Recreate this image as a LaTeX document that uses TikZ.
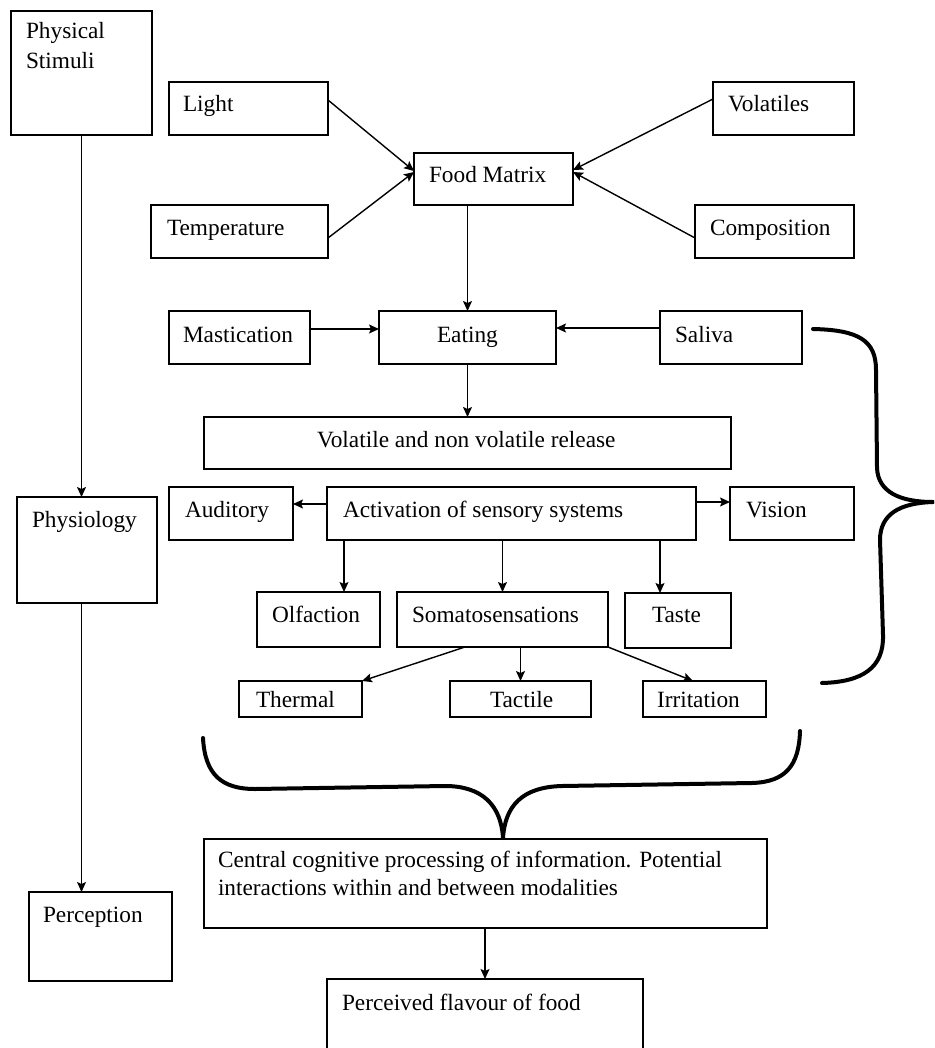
\documentclass[tikz,border=0pt]{standalone}
\usepackage{fontspec}
\setmainfont{Liberation Serif}
\usetikzlibrary{arrows.meta,calc}
\tikzset{
  box/.style={draw, line width=1.4pt, rectangle, anchor=north west, inner sep=0pt, outer sep=0pt},
  txt/.style={anchor=base west, inner sep=0pt, outer sep=0pt, font=\fontsize{23.3}{28}\selectfont},
  arr/.style={line width=1.4pt, -{Stealth[length=10pt,width=9pt,inset=2pt]}},
  brace/.style={line width=4pt, line cap=round, line join=round},
}
\newcommand{\mybox}[5]{\node[box, minimum width={#4-#2}, minimum height={#5-#3}] (#1) at (#2,#3) {};}
\newcommand{\mytext}[4]{\node[txt] (#1) at (#2,#3) {#4};}
\begin{document}
\begin{tikzpicture}[x=1pt,y=-1pt]
\useasboundingbox (0,0) rectangle (934,1048);
\clip (0,0) rectangle (934,1048);

% boxes
\mybox{phys}{11}{11}{152}{135}
\mybox{light}{169}{82}{328}{135}
\mybox{temp}{151}{205}{328}{258}
\mybox{food}{414}{153}{573}{205}
\mybox{vol}{713}{82}{854}{135}
\mybox{comp}{695}{205}{854}{258}
\mybox{mast}{169}{311}{310}{364}
\mybox{eat}{379}{311}{556}{364}
\mybox{sal}{660}{311}{802}{364}
\mybox{rel}{204}{417}{731}{469}
\mybox{aud}{169}{487}{293}{540}
\mybox{act}{327}{487}{696}{540}
\mybox{vis}{730}{487}{854}{540}
\mybox{physio}{17}{497}{157}{603}
\mybox{olf}{257}{592}{380}{647}
\mybox{som}{397}{592}{608}{647}
\mybox{taste}{625}{593}{731}{648}
\mybox{therm}{239}{681}{362}{717}
\mybox{tact}{450}{681}{591}{717}
\mybox{irr}{643}{681}{766}{717}
\mybox{cent}{204}{839}{767}{928}
\mybox{perc}{29}{892}{172}{981}
\mybox{flav}{327}{979}{643}{1075}

% texts
\mytext{phys-t1}{26}{39}{Physical}
\mytext{phys-t2}{26}{69}{Stimuli}
\mytext{light-t}{183}{112}{Light}
\mytext{temp-t}{167}{236}{Temperature}
\mytext{food-t}{429}{183}{Food Matrix}
\mytext{vol-t}{728}{112}{Volatiles}
\mytext{comp-t}{710}{236}{Composition}
\mytext{mast-t}{183}{342}{Mastication}
\mytext{eat-t}{437}{342}{Eating}
\mytext{sal-t}{675}{342}{Saliva}
\mytext{rel-t}{317}{447}{Volatile and non volatile release}
\mytext{aud-t}{185}{517}{Auditory}
\mytext{act-t}{343}{517}{Activation of sensory systems}
\mytext{vis-t}{746}{517}{Vision}
\mytext{physio-t}{32}{527}{Physiology}
\mytext{olf-t}{272}{622}{Olfaction}
\mytext{som-t}{412}{622}{Somatosensations}
\mytext{taste-t}{652}{622}{Taste}
\mytext{therm-t}{256}{707}{Thermal}
\mytext{tact-t}{490}{707}{Tactile}
\mytext{irr-t}{657}{707}{Irritation}
\mytext{cent-t1}{218}{867}{Central cognitive processing of information. Potential}
\mytext{cent-t2}{218}{895}{interactions within and between modalities}
\mytext{perc-t}{43}{922}{Perception}
\mytext{flav-t}{342}{1010}{Perceived flavour of food}

% connectors
\draw[arr] (phys.south) -- (phys.south |- physio.north);
\draw[arr] (phys.south |- physio.south) -- (phys.south |- perc.north);
\draw[arr] ([yshift=8.5pt]light.east) -- ([yshift=8pt]food.west);
\draw[arr] ([yshift=-6.5pt]temp.east) -- ([yshift=7pt]food.west);
\draw[arr] ([yshift=9.5pt]vol.west) -- ([yshift=9pt]food.east);
\draw[arr] ([yshift=-6.5pt]comp.west) -- ([yshift=7pt]food.east);
\draw[arr] (eat.north |- food.south) -- (eat.north);
\draw[arr] ([yshift=8.5pt]mast.east) -- ([yshift=8.5pt]eat.west);
\draw[arr] ([yshift=9.5pt]sal.west) -- ([yshift=9.5pt]eat.east);
\draw[arr] (eat.south) -- (eat.south |- rel.north);
\draw[arr] ([yshift=9.5pt]act.west) -- ([yshift=9.5pt]aud.east);
\draw[arr] ([yshift=11.5pt]act.east) -- ([yshift=11.5pt]vis.west);
\coordinate (a1) at ($(act.south west)+(17,0)$);
\draw[arr] (a1) -- (a1 |- olf.north);
\draw[arr] (som.north |- act.south) -- (som.north);
\coordinate (a3) at ($(act.south west)+(333,0)$);
\draw[arr] (a3) -- (a3 |- taste.north);
\coordinate (s1) at ($(som.south west)+(68,0)$);
\draw[arr] (s1) -- (therm.north east);
\draw[arr] (tact.north |- som.south) -- (tact.north);
\coordinate (i1) at ($(irr.north west)+(50,0)$);
\draw[arr] (som.south east) -- (i1);
\draw[arr] (flav.north |- cent.south) -- (flav.north);

% right brace
\draw[brace] (813,329) .. controls (858,330) and (876,340) .. (876,370)
  -- (877,468) .. controls (878,492) and (900,502) .. (933,502);
\draw[brace] (933,502) .. controls (900,503) and (880,514) .. (880,540)
  -- (883,635) .. controls (884,668) and (862,682) .. (822,683);

% bottom brace
\draw[brace] (203,738) .. controls (205,775) and (222,789) .. (255,789)
  -- (445,786) .. controls (482,786) and (501,805) .. (503,838);
\draw[brace] (503,838) .. controls (505,806) and (522,787) .. (562,786)
  -- (752,783) .. controls (786,782) and (799,765) .. (800,731);
\end{tikzpicture}
\end{document}
